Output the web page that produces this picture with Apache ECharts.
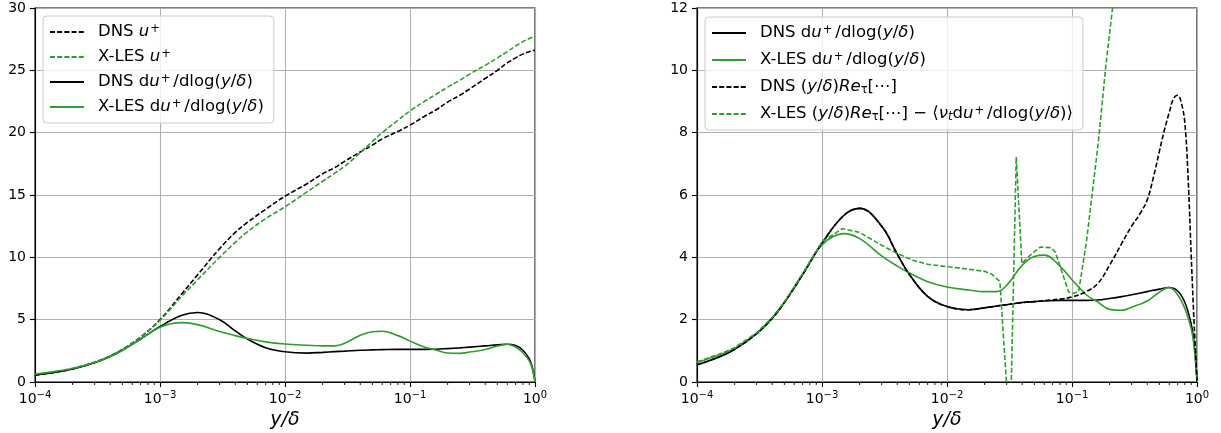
<!DOCTYPE html>
<html>
<head>
<meta charset="utf-8">
<script src="https://cdn.jsdelivr.net/npm/echarts@6/dist/echarts.min.js"></script>
<style>
  html, body { margin: 0; padding: 0; background: #ffffff; }
  #chart { width: 1221px; height: 433px; }
</style>
</head>
<body>
<div id="chart"></div>
<script>
// Wall-normal positions y/δ shared by the mean-velocity and log-derivative profiles
const yDelta = [1e-4, 1.5e-4, 2e-4, 3e-4, 4e-4, 5e-4, 7e-4, 1e-3, 1.5e-3, 2e-3, 3e-3, 4e-3, 5e-3, 7e-3,
  1e-2, 1.5e-2, 2e-2, 2.5e-2, 3e-2, 4e-2, 5e-2, 6e-2, 8e-2, 0.1, 0.13, 0.16, 0.2, 0.25, 0.3, 0.4, 0.5,
  0.6, 0.7, 0.8, 0.9, 0.95, 1.0];

// Mean velocity u+
const uPlusDns = [0.55, 0.8, 1.05, 1.57, 2.08, 2.6, 3.6, 5.0, 7.1, 8.6, 10.7, 12.0, 12.8, 13.85,
  14.9, 15.9, 16.7, 17.2, 17.7, 18.45, 19.0, 19.5, 20.1, 20.6, 21.3, 21.8, 22.45, 23.0, 23.5, 24.35, 25.0,
  25.6, 26.0, 26.3, 26.5, 26.58, 26.6];
const uPlusLes = [0.6, 0.85, 1.1, 1.6, 2.1, 2.62, 3.6, 4.95, 6.9, 8.2, 10.0, 11.2, 12.05, 13.1,
  14.05, 15.25, 16.1, 16.75, 17.3, 18.4, 19.3, 20.0, 21.0, 21.75, 22.5, 23.05, 23.65, 24.2, 24.7, 25.4, 26.0,
  26.5, 26.95, 27.3, 27.55, 27.65, 27.7];

// Log-derivative du+/dlog(y/δ)
const dudlogDns = [0.55, 0.8, 1.05, 1.55, 2.05, 2.55, 3.45, 4.45, 5.35, 5.57, 5.0, 4.1, 3.45, 2.75,
  2.42, 2.32, 2.38, 2.44, 2.48, 2.55, 2.58, 2.6, 2.62, 2.62, 2.62, 2.63, 2.68, 2.74, 2.8, 2.9, 2.98,
  3.03, 2.92, 2.55, 1.85, 1.2, 0.05];
const dudlogLes = [0.63, 0.87, 1.08, 1.57, 2.05, 2.55, 3.45, 4.4, 4.76, 4.6, 4.05, 3.72, 3.5, 3.22,
  3.05, 2.95, 2.9, 2.9, 3.1, 3.75, 4.03, 4.07, 3.72, 3.28, 2.8, 2.57, 2.33, 2.3, 2.4, 2.6, 2.88,
  3.03, 2.8, 2.35, 1.7, 1.1, 0.05];

// DNS (y/δ)Re_τ[⋯]
const budgetDnsY = [1e-4, 1.5e-4, 2e-4, 3e-4, 4e-4, 5e-4, 7e-4, 1e-3, 1.5e-3, 2e-3, 3e-3, 4e-3, 5e-3, 7e-3,
  1e-2, 1.5e-2, 2e-2, 3e-2, 4e-2, 5e-2, 6e-2, 8e-2, 0.1, 0.13, 0.16, 0.2, 0.25, 0.3, 0.35, 0.4, 0.45,
  0.5, 0.55, 0.6, 0.65, 0.7, 0.75, 0.8, 0.85, 0.9, 0.95, 1.0];
const budgetDns = [0.55, 0.8, 1.05, 1.55, 2.05, 2.55, 3.45, 4.45, 5.35, 5.57, 5.0, 4.1, 3.45, 2.75,
  2.42, 2.32, 2.38, 2.48, 2.55, 2.58, 2.61, 2.66, 2.73, 2.9, 3.15, 3.75, 4.45, 5.0, 5.4, 5.85, 6.6,
  7.4, 8.1, 8.65, 9.1, 9.2, 8.95, 8.3, 6.5, 4.0, 1.8, 0.05];

// X-LES (y/δ)Re_τ[⋯] − ⟨ν_t du+/dlog(y/δ)⟩
const budgetLesY = [1e-4, 1.5e-4, 2e-4, 3e-4, 4e-4, 5e-4, 7e-4, 1e-3, 1.45e-3, 2e-3, 3e-3, 4e-3, 5.4e-3, 7e-3,
  1e-2, 1.5e-2, 2e-2, 2.3e-2, 2.65e-2, 3.1e-2, 3.23e-2, 3.58e-2, 3.97e-2, 4.64e-2, 5.57e-2, 6.8e-2,
  7.35e-2, 9.4e-2, 0.101, 0.113, 0.131, 0.163, 0.186, 0.23];
const budgetLes = [0.65, 0.89, 1.1, 1.58, 2.07, 2.57, 3.48, 4.5, 4.92, 4.8, 4.39, 4.12, 3.9, 3.78,
  3.7, 3.62, 3.55, 3.45, 3.22, -1.0, -1.0, 7.22, 3.8, 4.07, 4.33, 4.31,
  4.17, 2.89, 2.84, 2.89, 4.55, 7.75, 10.1, 13.3];

const FONT = 'DejaVu Sans';
const GREEN = '#2ca02c';
const BLACK = '#000000';

const pairs = (xs, ys) => xs.map((x, i) => [x, ys[i]]);

// Minor ticks at 2..9 × 10^n on the log axes
const minorTicks = [];
for (let e = -4; e < 0; e++) {
  for (let k = 2; k <= 9; k++) minorTicks.push([k * Math.pow(10, e), 0]);
}

const SUP = { '-4': '−4', '-3': '−3', '-2': '−2', '-1': '−1', '0': '0' };
const xLabelFormatter = v => {
  const e = Math.round(Math.log10(v));
  return '{b|10}{s|' + (SUP[String(e)] || String(e)) + '}';
};

const LF = 16.5;   // legend font size
const SF = 11.5;   // legend super/subscript size
const legendRich = {
  i: { fontFamily: FONT, fontSize: LF, fontStyle: 'italic', lineHeight: 18, color: '#000' },
  sup: { fontFamily: FONT, fontSize: SF, lineHeight: 10, verticalAlign: 'top', color: '#000', padding: [0, 3, 0, 1] },
  sub: { fontFamily: FONT, fontSize: SF, lineHeight: 10, verticalAlign: 'bottom', color: '#000' },
  isub: { fontFamily: FONT, fontSize: SF, fontStyle: 'italic', lineHeight: 10, verticalAlign: 'bottom', color: '#000' },
  gap: { width: 9, lineHeight: 18 }
};

const NAMES = {
  uDns: 'DNS u+',
  uLes: 'X-LES u+',
  dDns: 'DNS du+/dlog(y/δ)',
  dLes: 'X-LES du+/dlog(y/δ)',
  bDns: 'DNS (y/δ)Re_τ[⋯]',
  bLes: 'X-LES (y/δ)Re_τ[⋯] − ⟨ν_t du+/dlog(y/δ)⟩'
};
const dlog = 'd{i|u}{sup|+}/dlog({i|y}/{i|δ})';
const LEGEND_TEXT = {
  [NAMES.uDns]: '{gap|}DNS {i|u}{sup|+}',
  [NAMES.uLes]: '{gap|}X-LES {i|u}{sup|+}',
  [NAMES.dDns]: '{gap|}DNS ' + dlog,
  [NAMES.dLes]: '{gap|}X-LES ' + dlog,
  [NAMES.bDns]: '{gap|}DNS ({i|y}/{i|δ}){i|Re}{sub|τ}[⋯]',
  [NAMES.bLes]: '{gap|}X-LES ({i|y}/{i|δ}){i|Re}{sub|τ}[⋯] − ⟨{i|ν}{isub|t}' + dlog + '⟩'
};

function xAxisFor(gridIndex) {
  return {
    type: 'log', logBase: 10, gridIndex, min: 1e-4, max: 1, splitNumber: 4,
    name: 'y/δ', nameLocation: 'middle', nameGap: 27,
    nameTextStyle: { fontFamily: FONT, fontSize: 19, fontStyle: 'italic', color: '#000' },
    axisLine: { show: true, onZero: false, lineStyle: { color: '#000', width: 1.1 } },
    axisTick: { show: true, inside: false, length: 5, lineStyle: { color: '#000', width: 1.1 } },
    axisLabel: {
      margin: 8, formatter: xLabelFormatter, color: '#000',
      rich: {
        b: { fontFamily: FONT, fontSize: 14, lineHeight: 18, color: '#000' },
        s: { fontFamily: FONT, fontSize: 10, lineHeight: 10, verticalAlign: 'top', color: '#000' }
      }
    },
    splitLine: { show: true, lineStyle: { color: '#b0b0b0', width: 1.1 } },
    minorTick: { show: false }, minorSplitLine: { show: false }
  };
}

function yAxisFor(gridIndex, max, interval) {
  return {
    type: 'value', gridIndex, min: 0, max, interval,
    axisLine: { show: true, onZero: false, lineStyle: { color: '#000', width: 1.1 } },
    axisTick: { show: true, inside: false, length: 5, lineStyle: { color: '#000', width: 1.1 } },
    axisLabel: { margin: 9, fontFamily: FONT, fontSize: 14, color: '#000' },
    splitLine: { show: true, lineStyle: { color: '#b0b0b0', width: 1.1 } }
  };
}

function lineSeries(name, data, color, dashed, xi, smooth) {
  return {
    type: 'line', name, data, xAxisIndex: xi, yAxisIndex: xi,
    symbol: 'none', showSymbol: false, smooth: smooth, clip: true,
    lineStyle: { color, width: 1.6, type: dashed ? [5, 2.2] : 'solid' },
    itemStyle: { color },
    emphasis: { disabled: true }, animation: false
  };
}

function minorTickSeries(xi) {
  return {
    type: 'custom', xAxisIndex: xi, yAxisIndex: xi, silent: true, clip: false, z: 5,
    data: minorTicks,
    renderItem: (params, api) => {
      const p = api.coord([api.value(0), 0]);
      return {
        type: 'line',
        shape: { x1: p[0], y1: p[1], x2: p[0], y2: p[1] + 3 },
        style: { stroke: '#000', lineWidth: 0.9 }
      };
    }
  };
}

function legendFor(names, left, top, gap, padRight) {
  return {
    data: names, orient: 'vertical', left, top,
    padding: [7, padRight, 7, 6], itemGap: gap, itemWidth: 34, itemHeight: 14,
    backgroundColor: 'rgba(255,255,255,0.8)', borderColor: '#cccccc', borderWidth: 1, borderRadius: 4,
    selectedMode: false,
    itemStyle: { opacity: 0, borderWidth: 0 },
    formatter: n => LEGEND_TEXT[n],
    textStyle: { fontFamily: FONT, fontSize: LF, lineHeight: 18, color: '#000', rich: legendRich }
  };
}

const chart = echarts.init(document.getElementById('chart'), null, { renderer: 'canvas' });
chart.setOption({
  animation: false,
  backgroundColor: '#ffffff',
  textStyle: { fontFamily: FONT },
  grid: [
    { left: 35, top: 8, width: 500, height: 374, show: true, borderColor: '#000', borderWidth: 1.1,
      backgroundColor: 'transparent', containLabel: false, outerBoundsMode: 'none' },
    { left: 697, top: 8, width: 500, height: 374, show: true, borderColor: '#000', borderWidth: 1.1,
      backgroundColor: 'transparent', containLabel: false, outerBoundsMode: 'none' }
  ],
  xAxis: [xAxisFor(0), xAxisFor(1)],
  yAxis: [yAxisFor(0, 30, 5), yAxisFor(1, 12, 2)],
  legend: [
    legendFor([NAMES.uDns, NAMES.uLes, NAMES.dDns, NAMES.dLes], 43, 16, 7, 10),
    legendFor([NAMES.dDns, NAMES.dLes, NAMES.bDns, NAMES.bLes], 705, 17, 9, 10)
  ],
  series: [
    lineSeries(NAMES.uDns, pairs(yDelta, uPlusDns), BLACK, true, 0, 0.4),
    lineSeries(NAMES.uLes, pairs(yDelta, uPlusLes), GREEN, true, 0, 0.4),
    lineSeries(NAMES.dDns, pairs(yDelta, dudlogDns), BLACK, false, 0, 0.4),
    lineSeries(NAMES.dLes, pairs(yDelta, dudlogLes), GREEN, false, 0, 0.4),
    minorTickSeries(0),
    lineSeries(NAMES.dDns, pairs(yDelta, dudlogDns), BLACK, false, 1, 0.4),
    lineSeries(NAMES.dLes, pairs(yDelta, dudlogLes), GREEN, false, 1, 0.4),
    lineSeries(NAMES.bDns, pairs(budgetDnsY, budgetDns), BLACK, true, 1, 0.4),
    lineSeries(NAMES.bLes, pairs(budgetLesY, budgetLes), GREEN, true, 1, false),
    minorTickSeries(1)
  ]
});
</script>
</body>
</html>
